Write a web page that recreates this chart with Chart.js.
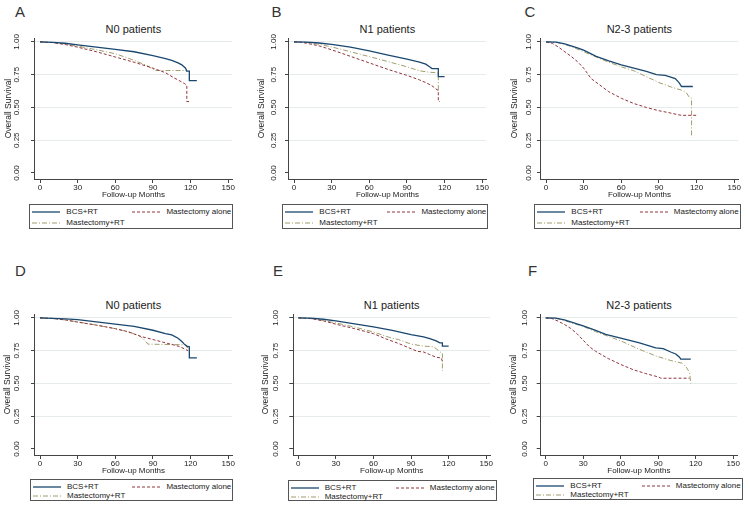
<!DOCTYPE html>
<html>
<head>
<meta charset="utf-8">
<script src="https://cdn.jsdelivr.net/npm/chart.js@4.4.0/dist/chart.umd.min.js"></script>
<style>
  body { margin: 0; background: #fff; }
  #fig { position: relative; width: 750px; height: 508px; overflow: hidden; font-family: 'Liberation Sans', Arial, sans-serif; color: #222; }
  .letter { position: absolute; font-size: 15px; line-height: 15px; color: #333; }
  .ptitle { position: absolute; font-size: 11px; line-height: 13px; text-align: center; color: #222; }
  canvas { position: absolute; }
  .legend { position: absolute; border: 1px solid #555; box-sizing: border-box; font-size: 8px; }
  .item { position: absolute; display: flex; align-items: center; white-space: nowrap; height: 10px; line-height: 10px; }
  .item svg { margin-right: 6px; }
</style>
</head>
<body>
<div id="fig"></div>
<script>
const groups = ['BCS+RT', 'Mastectomy alone', 'Mastectomy+RT']
const letters = ['A', 'B', 'C', 'D', 'E', 'F']
const panelTitles = ['N0 patients', 'N1 patients', 'N2-3 patients', 'N0 patients', 'N1 patients', 'N2-3 patients']
const xTicks = [0, 30, 60, 90, 120, 150]
const yTicks = [0, 0.25, 0.5, 0.75, 1]

/* A - N0 */
const aBcsMonths = [0, 10, 20, 30, 45, 60, 75, 90, 100, 105, 110, 113, 116, 117, 119, 119, 125]
const aBcsSurv = [1, 0.997, 0.99, 0.978, 0.96, 0.943, 0.925, 0.895, 0.873, 0.86, 0.84, 0.825, 0.80, 0.777, 0.777, 0.705, 0.705]
const aMastMonths = [0, 10, 20, 30, 45, 60, 75, 90, 100, 106, 110, 115, 117, 117, 119]
const aMastSurv = [1, 0.995, 0.98, 0.96, 0.925, 0.885, 0.845, 0.80, 0.765, 0.73, 0.71, 0.683, 0.67, 0.545, 0.545]
const aMastRtMonths = [0, 10, 20, 30, 45, 60, 75, 85, 92, 116, 117]
const aMastRtSurv = [1, 0.996, 0.985, 0.968, 0.94, 0.91, 0.86, 0.82, 0.782, 0.782, 0.775]

/* B - N1 */
const bBcsMonths = [0, 10, 20, 30, 45, 60, 75, 90, 100, 105, 108, 110, 115, 115, 120]
const bBcsSurv = [1, 0.998, 0.992, 0.982, 0.96, 0.932, 0.90, 0.868, 0.845, 0.83, 0.81, 0.797, 0.797, 0.735, 0.735]
const bMastMonths = [0, 5, 10, 20, 30, 45, 60, 75, 90, 100, 105, 110, 114, 115, 115, 116]
const bMastSurv = [1, 0.998, 0.99, 0.97, 0.94, 0.89, 0.84, 0.79, 0.745, 0.71, 0.69, 0.665, 0.635, 0.63, 0.545, 0.545]
const bMastRtMonths = [0, 10, 20, 30, 45, 60, 75, 90, 100, 107, 113, 115, 115]
const bMastRtSurv = [1, 0.996, 0.982, 0.962, 0.925, 0.888, 0.85, 0.81, 0.78, 0.77, 0.765, 0.76, 0.63]

/* C - N2-3 */
const cBcsMonths = [0, 8, 15, 20, 25, 30, 40, 50, 60, 70, 80, 88, 95, 100, 103, 106, 108, 117]
const cBcsSurv = [1, 0.998, 0.985, 0.97, 0.955, 0.937, 0.89, 0.855, 0.825, 0.80, 0.775, 0.75, 0.745, 0.73, 0.72, 0.69, 0.66, 0.66]
const cMastMonths = [0, 5, 10, 15, 20, 25, 30, 36, 43, 50, 60, 70, 80, 90, 98, 105, 108, 120]
const cMastSurv = [1, 0.99, 0.96, 0.925, 0.89, 0.85, 0.80, 0.72, 0.67, 0.62, 0.57, 0.53, 0.50, 0.475, 0.46, 0.445, 0.44, 0.44]
const cMastRtMonths = [0, 8, 15, 20, 30, 40, 50, 60, 70, 80, 90, 100, 108, 112, 114, 116, 116]
const cMastRtSurv = [1, 0.998, 0.98, 0.965, 0.925, 0.885, 0.845, 0.81, 0.78, 0.735, 0.69, 0.655, 0.632, 0.61, 0.58, 0.57, 0.27]

/* D - N0 */
const dBcsMonths = [0, 10, 20, 30, 45, 60, 75, 90, 100, 105, 110, 113, 115, 117, 119, 119, 125]
const dBcsSurv = [1, 0.997, 0.993, 0.987, 0.97, 0.952, 0.935, 0.906, 0.88, 0.87, 0.845, 0.82, 0.80, 0.785, 0.78, 0.695, 0.695]
const dMastMonths = [0, 10, 20, 30, 45, 60, 70, 80, 90, 100, 110, 115, 118]
const dMastSurv = [1, 0.996, 0.985, 0.968, 0.945, 0.918, 0.895, 0.86, 0.835, 0.81, 0.785, 0.765, 0.75]
const dMastRtMonths = [0, 10, 20, 30, 45, 60, 70, 78, 82, 86, 116, 117, 119]
const dMastRtSurv = [1, 0.995, 0.985, 0.97, 0.945, 0.918, 0.895, 0.87, 0.845, 0.80, 0.795, 0.775, 0.775]

/* E - N1 */
const eBcsMonths = [0, 10, 20, 30, 45, 60, 75, 90, 100, 105, 110, 113, 115, 115, 120]
const eBcsSurv = [1, 0.998, 0.99, 0.977, 0.955, 0.932, 0.905, 0.873, 0.855, 0.842, 0.825, 0.81, 0.81, 0.785, 0.785]
const eMastMonths = [0, 10, 20, 30, 45, 60, 70, 80, 90, 95, 100, 105, 110, 114, 115]
const eMastSurv = [1, 0.995, 0.978, 0.952, 0.918, 0.88, 0.84, 0.805, 0.765, 0.745, 0.74, 0.72, 0.70, 0.695, 0.67]
const eMastRtMonths = [0, 10, 20, 30, 45, 60, 70, 75, 80, 90, 100, 108, 112, 114, 115, 115]
const eMastRtSurv = [1, 0.995, 0.98, 0.962, 0.93, 0.893, 0.86, 0.845, 0.835, 0.80, 0.785, 0.78, 0.75, 0.735, 0.73, 0.595]

/* F - N2-3 */
const fBcsMonths = [0, 8, 15, 20, 30, 40, 48, 60, 75, 88, 94, 100, 104, 107, 108, 116]
const fBcsSurv = [1, 0.998, 0.985, 0.97, 0.94, 0.905, 0.875, 0.845, 0.81, 0.772, 0.765, 0.74, 0.725, 0.70, 0.685, 0.685]
const fMastMonths = [0, 5, 10, 15, 20, 25, 30, 35, 40, 50, 60, 70, 80, 90, 92, 115]
const fMastSurv = [1, 0.995, 0.975, 0.95, 0.92, 0.88, 0.83, 0.78, 0.745, 0.69, 0.645, 0.605, 0.575, 0.55, 0.54, 0.54]
const fMastRtMonths = [0, 8, 15, 20, 30, 40, 50, 60, 75, 88, 100, 109, 112, 114, 115, 116]
const fMastRtSurv = [1, 0.998, 0.98, 0.965, 0.935, 0.895, 0.86, 0.825, 0.76, 0.71, 0.675, 0.655, 0.63, 0.60, 0.59, 0.50]

const panelData = [
    [[aBcsMonths, aBcsSurv], [aMastMonths, aMastSurv], [aMastRtMonths, aMastRtSurv]],
    [[bBcsMonths, bBcsSurv], [bMastMonths, bMastSurv], [bMastRtMonths, bMastRtSurv]],
    [[cBcsMonths, cBcsSurv], [cMastMonths, cMastSurv], [cMastRtMonths, cMastRtSurv]],
    [[dBcsMonths, dBcsSurv], [dMastMonths, dMastSurv], [dMastRtMonths, dMastRtSurv]],
    [[eBcsMonths, eBcsSurv], [eMastMonths, eMastSurv], [eMastRtMonths, eMastRtSurv]],
    [[fBcsMonths, fBcsSurv], [fMastMonths, fMastSurv], [fMastRtMonths, fMastRtSurv]]
]

// line looks, same order as groups
const looks = [
    { color: '#1a476f', dash: [], width: 1.3 },
    { color: '#90353b', dash: [3, 2], width: 1 },
    { color: '#a09c6c', dash: [5, 2, 1, 2], width: 1 }
]

// where things sit on the page (pixels)
const layout = [
    { left: 0, x0: 40, y1: 41.7, yTitleX: 8.3, tickCX: 17.2, letter: [15, 4], box: [29.3, 204, 204, 25.3], rows: [2, 13] },
    { left: 250, x0: 294, y1: 41.7, yTitleX: 262, tickCX: 273.5, letter: [271.5, 4], box: [282.3, 204, 206, 25.3], rows: [2, 13] },
    { left: 500, x0: 546, y1: 41.7, yTitleX: 514.5, tickCX: 529, letter: [524.5, 4], box: [534.3, 204, 206.4, 25.3], rows: [2, 13] },
    { left: 0, x0: 40, y1: 317.7, yTitleX: 7.8, tickCX: 17, letter: [15, 263], box: [30, 479.3, 203.3, 21.5], rows: [2, 11] },
    { left: 250, x0: 298.3, y1: 317.7, yTitleX: 265.5, tickCX: 275.3, letter: [273, 263], box: [287.7, 480, 209, 21], rows: [2, 11] },
    { left: 500, x0: 545.7, y1: 317.7, yTitleX: 513.7, tickCX: 524.5, letter: [528, 263], box: [533.3, 477.7, 209.4, 22.5], rows: [2, 11.5] }
]

const PX_MONTH = 1.2533
const PX_UNIT = 131.3
const X_MIN = -4, X_MAX = 153, Y_MIN = -0.046, Y_MAX = 1.03
const tickFamily = "'Liberation Sans Narrow', 'Liberation Sans', Arial"
const tickFont = { family: tickFamily, size: 8 }
const fig = document.getElementById('fig')

// Stata-style y labels, turned to read upward, placed by the y scale
const upLabels = {
    id: 'upLabels',
    afterDraw(chart, args, opts) {
        const y = chart.scales.y
        const ctx = chart.ctx
        ctx.save()
        ctx.fillStyle = '#222'
        ctx.font = '8px ' + tickFamily
        ctx.textAlign = 'center'
        ctx.textBaseline = 'middle'
        yTicks.forEach(v => {
            ctx.save()
            ctx.translate(opts.cx, y.getPixelForValue(v))
            ctx.rotate(-Math.PI / 2)
            ctx.fillText(v.toFixed(2), 0, 0)
            ctx.restore()
        })
        ctx.restore()
    }
}

function sampleSvg(look) {
    return '<svg width="28" height="6"><line x1="0" y1="3" x2="28" y2="3" stroke="' + look.color +
        '" stroke-width="' + look.width + '" stroke-dasharray="' + (look.dash.join(' ') || 'none') + '"/></svg>'
}

panelData.forEach((series, i) => {
    const L = layout[i]
    const plotLeft = L.x0 + X_MIN * PX_MONTH
    const plotRight = L.x0 + X_MAX * PX_MONTH
    const plotTop = L.y1 - (Y_MAX - 1) * PX_UNIT
    const plotBottom = L.y1 + (1 - Y_MIN) * PX_UNIT
    const padTop = 12, padRight = 10, xAxisH = 22, tickLen = 4
    const cTop = plotTop - padTop
    const cw = Math.round(plotRight + padRight - L.left)
    const ch = Math.round(plotBottom + xAxisH - cTop)

    const let_ = document.createElement('div')
    let_.className = 'letter'
    let_.style.left = L.letter[0] + 'px'
    let_.style.top = L.letter[1] + 'px'
    let_.textContent = letters[i]
    fig.appendChild(let_)

    const t = document.createElement('div')
    t.className = 'ptitle'
    t.style.left = plotLeft + 'px'
    t.style.width = (plotRight - plotLeft) + 'px'
    t.style.top = (L.y1 - 19.2) + 'px'
    t.textContent = panelTitles[i]
    fig.appendChild(t)

    const cv = document.createElement('canvas')
    cv.width = cw
    cv.height = ch
    cv.style.left = L.left + 'px'
    cv.style.top = cTop + 'px'
    fig.appendChild(cv)

    new Chart(cv, {
        type: 'line',
        data: {
            datasets: series.map((s, k) => ({
                label: groups[k],
                data: s[0].map((m, j) => ({ x: m, y: s[1][j] })),
                borderColor: looks[k].color,
                borderDash: looks[k].dash,
                borderWidth: looks[k].width,
                pointRadius: 0,
                fill: false,
                tension: 0
            }))
        },
        plugins: [upLabels],
        options: {
            responsive: false,
            animation: false,
            devicePixelRatio: 1,
            layout: { padding: { left: 0, top: padTop, right: padRight, bottom: 0 } },
            plugins: {
                legend: { display: false },
                tooltip: { enabled: false },
                upLabels: { cx: L.tickCX - L.left }
            },
            scales: {
                x: {
                    type: 'linear', min: X_MIN, max: X_MAX,
                    afterBuildTicks: s => { s.ticks = xTicks.map(v => ({ value: v })) },
                    afterFit: s => { s.height = xAxisH },
                    grid: { drawOnChartArea: false, tickLength: tickLen, tickColor: '#444' },
                    border: { color: '#444', width: 1 },
                    ticks: { font: tickFont, color: '#222', padding: 0, maxRotation: 0 },
                    title: { display: true, text: 'Follow-up Months', font: { family: "'Liberation Sans'", size: 8 }, color: '#222', padding: { top: 0, bottom: 1.2 } }
                },
                y: {
                    min: Y_MIN, max: Y_MAX,
                    afterBuildTicks: s => { s.ticks = yTicks.map(v => ({ value: v })) },
                    afterFit: s => { s.width = plotLeft - L.left },
                    grid: {
                        color: c => (c.tick && c.tick.value === 0) ? 'rgba(0,0,0,0)' : '#e6ecec',
                        tickLength: tickLen, tickColor: '#444'
                    },
                    border: { color: '#444', width: 1 },
                    ticks: { display: false },
                    title: { display: true, text: 'Overall Survival', font: { family: "'Liberation Sans'", size: 8.5 }, color: '#222', padding: { top: L.yTitleX - L.left - 5.1, bottom: 0 } }
                }
            }
        }
    })

    const box = document.createElement('div')
    box.className = 'legend'
    box.style.left = L.box[0] + 'px'
    box.style.top = L.box[1] + 'px'
    box.style.width = L.box[2] + 'px'
    box.style.height = L.box[3] + 'px'
    const items = [[0, 'l', L.rows[0]], [1, 'r', L.rows[0]], [2, 'l', L.rows[1]]]
    items.forEach(([k, side, top]) => {
        const it = document.createElement('div')
        it.className = 'item'
        it.style.top = top + 'px'
        if (side === 'l') it.style.left = '2px'
        else it.style.right = '1px'
        it.innerHTML = sampleSvg(looks[k]) + '<span>' + groups[k] + '</span>'
        box.appendChild(it)
    })
    fig.appendChild(box)
})
</script>
</body>
</html>
